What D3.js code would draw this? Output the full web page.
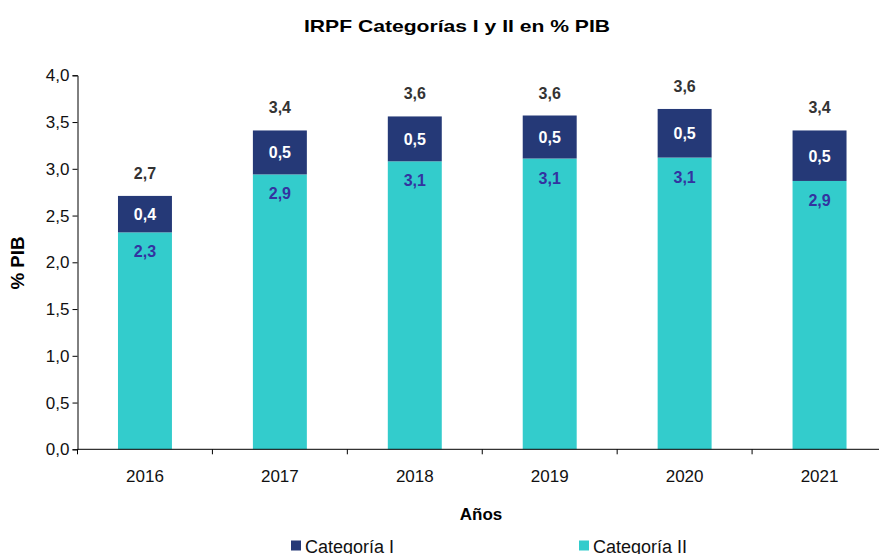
<!DOCTYPE html>
<html lang="es">
<head>
<meta charset="UTF-8">
<title>IRPF Categorías I y II en % PIB</title>
<script src="https://d3js.org/d3.v7.min.js"></script>
<style>
  body { margin: 0; background: #fff; }
  svg text { font-family: "Liberation Sans", Arial, sans-serif; }
</style>
</head>
<body>
<svg width="879" height="554"></svg>
<script>
// data
var years = ["2016", "2017", "2018", "2019", "2020", "2021"];
var catII = [2.32, 2.94, 3.08, 3.11, 3.12, 2.87];
var catI  = [0.39, 0.47, 0.48, 0.46, 0.52, 0.54];
var yTicks = [0, 0.5, 1, 1.5, 2, 2.5, 3, 3.5, 4];

var navy = "#253977", teal = "#33CCCC";
var fmt = function(v) { return d3.format(".1f")(v).replace(".", ","); };

var svg = d3.select("svg");
var mLeft = 77.5, mRight = 887, mTop = 75.3, mBottom = 449.3;

var x = d3.scaleBand().domain(years).range([mLeft, mRight]).paddingInner(0.6).paddingOuter(0.3);
var y = d3.scaleLinear().domain([0, 4]).range([mBottom, mTop]);

// title
svg.append("text")
   .attr("x", 457).attr("y", 32)
   .attr("text-anchor", "middle")
   .attr("font-size", "17px").attr("font-weight", "bold")
   .attr("textLength", 306).attr("lengthAdjust", "spacingAndGlyphs")
   .text("IRPF Categorías I y II en % PIB");

// y axis
var ya = svg.append("g")
   .attr("transform", "translate(" + mLeft + ",0)")
   .call(d3.axisLeft(y).tickValues(yTicks).tickFormat(fmt).tickSizeOuter(0).tickSize(5));
ya.select(".domain").attr("stroke", "#000");
ya.selectAll("line").attr("stroke", "#000");
ya.selectAll("text").attr("font-size", "17px").attr("fill", "#111");

svg.append("text")
   .attr("transform", "translate(24," + 263 + ") rotate(-90)")
   .attr("text-anchor", "middle")
   .attr("font-size", "18px").attr("font-weight", "bold")
   .attr("textLength", 53).attr("lengthAdjust", "spacingAndGlyphs")
   .text("% PIB");

// stacked bars
var bars = svg.append("g");
bars.selectAll(".b2").data(years).enter().append("rect")
    .attr("x", function(d) { return x(d); })
    .attr("width", x.bandwidth())
    .attr("y", function(d, i) { return y(catII[i]); })
    .attr("height", function(d, i) { return y(0) - y(catII[i]); })
    .attr("fill", teal);
bars.selectAll(".b1").data(years).enter().append("rect")
    .attr("x", function(d) { return x(d); })
    .attr("width", x.bandwidth())
    .attr("y", function(d, i) { return y(catII[i] + catI[i]); })
    .attr("height", function(d, i) { return y(catII[i]) - y(catII[i] + catI[i]); })
    .attr("fill", navy);

// labels
var cx = function(d) { return x(d) + x.bandwidth() / 2; };
svg.selectAll(".l2").data(years).enter().append("text")
   .attr("x", cx)
   .attr("y", function(d, i) { return y(catII[i]) + 25; })
   .attr("text-anchor", "middle")
   .attr("font-size", "16px").attr("font-weight", "bold").attr("fill", "#3333A0")
   .text(function(d, i) { return fmt(catII[i]); });
svg.selectAll(".l1").data(years).enter().append("text")
   .attr("x", cx)
   .attr("y", function(d, i) { return (y(catII[i]) + y(catII[i] + catI[i])) / 2 + 6; })
   .attr("text-anchor", "middle")
   .attr("font-size", "16px").attr("font-weight", "bold").attr("fill", "#fff")
   .text(function(d, i) { return fmt(catI[i]); });
svg.selectAll(".lt").data(years).enter().append("text")
   .attr("x", cx)
   .attr("y", function(d, i) { return y(catII[i] + catI[i]) - 17; })
   .attr("text-anchor", "middle")
   .attr("font-size", "16px").attr("font-weight", "bold").attr("fill", "#333")
   .text(function(d, i) { return fmt(catII[i] + catI[i]); });

// x axis with ticks between categories
var xa = svg.append("g").attr("transform", "translate(0," + mBottom + ")");
xa.append("line").attr("x1", mLeft).attr("x2", mRight).attr("stroke", "#000");
var step = x.step();
xa.selectAll(".tk").data(d3.range(years.length + 1)).enter().append("line")
  .attr("x1", function(k) { return mLeft + k * step; })
  .attr("x2", function(k) { return mLeft + k * step; })
  .attr("y1", 0).attr("y2", 5).attr("stroke", "#000");
xa.selectAll(".tl").data(years).enter().append("text")
  .attr("x", cx).attr("y", 33)
  .attr("text-anchor", "middle")
  .attr("font-size", "17px").attr("fill", "#111")
  .text(function(d) { return d; });

svg.append("text")
   .attr("x", 481).attr("y", 520)
   .attr("text-anchor", "middle")
   .attr("font-size", "17px").attr("font-weight", "bold")
   .text("Años");

// legend
var legend = [["Categoría I", navy, 291], ["Categoría II", teal, 579]];
var lg = svg.selectAll(".lg").data(legend).enter().append("g");
lg.append("rect")
  .attr("x", function(d) { return d[2]; }).attr("y", 540.5)
  .attr("width", 10).attr("height", 10)
  .attr("fill", function(d) { return d[1]; });
lg.append("text")
  .attr("x", function(d) { return d[2] + 14; }).attr("y", 552.5)
  .attr("font-size", "18px").attr("fill", "#111")
  .text(function(d) { return d[0]; });
</script>
</body>
</html>
